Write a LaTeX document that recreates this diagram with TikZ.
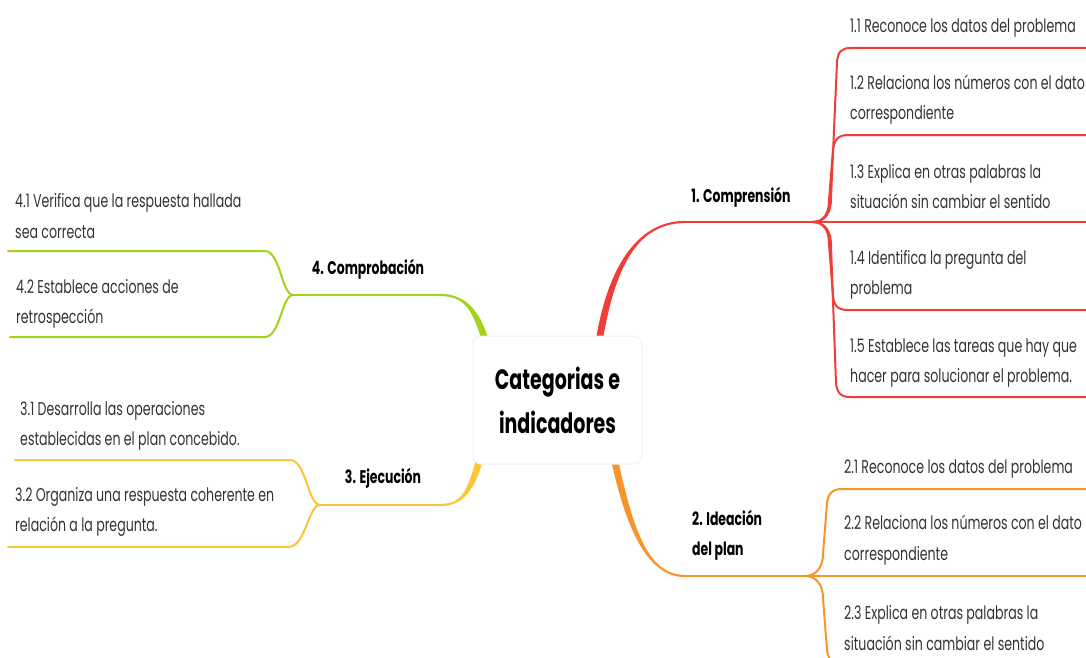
\documentclass[tikz,border=0pt]{standalone}
\usepackage{fontspec}
\usetikzlibrary{calc}
\newfontfamily\mapfont{Poppins}[FakeStretch=0.68]
\definecolor{cred}{HTML}{F03E36}
\definecolor{corange}{HTML}{F7952B}
\definecolor{cyellow}{HTML}{F8C637}
\definecolor{cgreen}{HTML}{A2D21C}
\definecolor{ctext}{HTML}{333333}
\newcommand\taper[7]{%
  \fill[#1] ($(#2)+(#6,0)$) .. controls ($(#3)+(#6,0)$) and ($(#4)+(0,#7)$) .. ($(#5)+(0,#7)$)
    -- ($(#5)-(0,#7)$) .. controls ($(#4)-(0,#7)$) and ($(#3)-(#6,0)$) .. ($(#2)-(#6,0)$) -- cycle;}
\tikzset{
  itemtext/.style={anchor=west, inner sep=0pt, align=left, text=ctext,
    font=\mapfont\fontsize{18.5}{30.5}\selectfont},
  labtext/.style={inner sep=0pt, align=left, text=black,
    font=\mapfont\bfseries\fontsize{18.3}{30}\selectfont},
  centerbox/.style={rounded corners=8pt, fill=white, draw=black!6, line width=1pt,
    minimum width=169pt, minimum height=128pt, align=center, inner sep=0pt,
    font=\mapfont\bfseries\fontsize{28}{44}\selectfont},
  leaf/.style={line width=2pt, line cap=round, line join=round},
}
\begin{document}
\begin{tikzpicture}[x=1pt,y=-1pt]
\useasboundingbox (0,0) rectangle (1086,658);
\clip (0,0) rectangle (1086,658);

% trunk coordinates
\coordinate (s1) at (600,336);
\coordinate (t1) at (685,222);
\coordinate (h1) at (812,222);
\coordinate (s2) at (615,462);
\coordinate (t2) at (685,576);
\coordinate (h2) at (805,576);
\coordinate (s3) at (479,462);
\coordinate (t3) at (440,505);
\coordinate (h3) at (320,505);
\coordinate (s4) at (484,336);
\coordinate (t4) at (440,295);
\coordinate (h4) at (293,295);

% tapered trunks
\taper{cred}{s1}{613,262}{640,222}{t1}{-3.5}{-1.1}
\taper{corange}{s2}{630,530}{648,576}{t2}{-3.5}{1.1}
\taper{cyellow}{s3}{470,492}{462,505}{t3}{3.5}{1.1}
\taper{cgreen}{s4}{474,306}{462,295}{t4}{3.5}{-1.1}

% leaf ends
\coordinate (e11) at (1086,48);
\coordinate (e12) at (1086,135);
\coordinate (e13) at (1086,222);
\coordinate (e14) at (1086,310);
\coordinate (e15) at (1086,397);
\coordinate (e21) at (1086,489);
\coordinate (e22) at (1086,576);
\coordinate (e23) at (1086,664);
\coordinate (e31) at (15,460);
\coordinate (e32) at (8,547);
\coordinate (e41) at (8,251);
\coordinate (e42) at (10,337);

% branch 1 (red)
\draw[leaf,cred] (t1) -- (h1) -- (e13);
\draw[leaf,cred] (h1) .. controls (826,222) and (831,212) .. (831,198) -- (837,62) .. controls (838,52) and (841,48) .. (851,48) -- (e11);
\draw[leaf,cred] (h1) .. controls (825,222) and (829,212) .. (829,200) -- (833,150) .. controls (834,140) and (838,135) .. (848,135) -- (e12);
\draw[leaf,cred] (h1) .. controls (825,222) and (829,232) .. (829,244) -- (833,296) .. controls (834,306) and (838,310) .. (848,310) -- (e14);
\draw[leaf,cred] (h1) .. controls (826,222) and (831,232) .. (831,246) -- (836,383) .. controls (837,392) and (840,397) .. (850,397) -- (e15);

% branch 2 (orange)
\draw[leaf,corange] (t2) -- (h2) -- (e22);
\draw[leaf,corange] (h2) .. controls (817,576) and (823,566) .. (823,554) -- (827,503) .. controls (828,494) and (832,489) .. (842,489) -- (e21);
\draw[leaf,corange] (h2) .. controls (817,576) and (823,586) .. (823,598) -- (827,650) .. controls (828,659) and (832,664) .. (842,664) -- (e23);

% branch 3 (yellow)
\draw[leaf,cyellow] (t3) -- (h3);
\draw[leaf,cyellow] (h3) .. controls (308,505) and (306,460) .. (290,460) -- (e31);
\draw[leaf,cyellow] (h3) .. controls (308,505) and (306,547) .. (288,547) -- (e32);

% branch 4 (green)
\draw[leaf,cgreen] (t4) -- (h4);
\draw[leaf,cgreen] (h4) .. controls (282,295) and (280,251) .. (265,251) -- (e41);
\draw[leaf,cgreen] (h4) .. controls (282,295) and (280,337) .. (265,337) -- (e42);

% central topic
\node[centerbox] (c) at (557.5,400) {Categorias e\\indicadores};

% branch labels
\node[labtext] (b1) at (741,197) {1. Comprensión};
\node[labtext, anchor=west] (b2) at (692,535) {2. Ideación\\del plan};
\node[labtext] (b3) at (383,478) {3. Ejecución};
\node[labtext] (b4) at (368,269) {4. Comprobación};

% items
\node[itemtext] (i11) at (850,28) {1.1 Reconoce los datos del problema};
\node[itemtext] (i12) at (850,99.5) {1.2 Relaciona los números con el dato\\correspondiente};
\node[itemtext] (i13) at (850,186.5) {1.3 Explica en otras palabras la\\situación sin cambiar el sentido};
\node[itemtext] (i14) at (850,275) {1.4 Identifica la pregunta del\\problema};
\node[itemtext] (i15) at (850,363) {1.5 Establece las tareas que hay que\\hacer para solucionar el problema.};
\node[itemtext] (i21) at (844,469) {2.1 Reconoce los datos del problema};
\node[itemtext] (i22) at (844,540) {2.2 Relaciona los números con el dato\\correspondiente};
\node[itemtext] (i23) at (844,628) {2.3 Explica en otras palabras la\\situación sin cambiar el sentido};
\node[itemtext] (i31) at (20,426) {3.1 Desarrolla las operaciones\\establecidas en el plan concebido.};
\node[itemtext] (i32) at (15,512) {3.2 Organiza una respuesta coherente en\\relación a la pregunta.};
\node[itemtext] (i41) at (15,216) {4.1 Verifica que la respuesta hallada\\sea correcta};
\node[itemtext] (i42) at (16,304) {4.2 Establece acciones de\\retrospección};
\end{tikzpicture}
\end{document}
